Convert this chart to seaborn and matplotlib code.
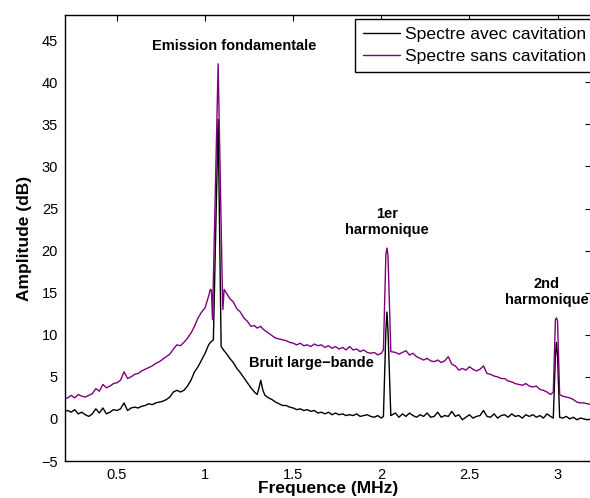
import matplotlib
matplotlib.use("Agg")
import matplotlib.pyplot as plt
import seaborn as sns
import pandas as pd

# frequency grid (MHz)
freq = [
    0.20, 0.22, 0.24, 0.26, 0.28, 0.30, 0.32, 0.34, 0.36, 0.38,
    0.40, 0.42, 0.44, 0.46, 0.48, 0.50, 0.52, 0.54, 0.56, 0.58,
    0.60, 0.62, 0.64, 0.66, 0.68, 0.70, 0.72, 0.74, 0.76, 0.78,
    0.80, 0.82, 0.84, 0.86, 0.88, 0.90, 0.92, 0.94, 0.96, 0.98,
    1.00, 1.02, 1.030, 1.036, 1.042, 1.047, 1.074, 1.091, 1.098, 1.101,
    1.108, 1.12, 1.14, 1.16, 1.18, 1.20, 1.22, 1.24, 1.26, 1.28,
    1.295, 1.305, 1.316, 1.328, 1.34, 1.36, 1.38, 1.40, 1.42, 1.44,
    1.46, 1.48, 1.50, 1.52, 1.54, 1.56, 1.58, 1.60, 1.62, 1.64,
    1.66, 1.68, 1.70, 1.72, 1.74, 1.76, 1.78, 1.80, 1.82, 1.84,
    1.86, 1.88, 1.90, 1.92, 1.94, 1.96, 1.98, 2.00, 2.012, 2.026,
    2.032, 2.038, 2.054, 2.08, 2.10, 2.12, 2.14, 2.16, 2.18, 2.20,
    2.22, 2.24, 2.26, 2.28, 2.30, 2.32, 2.34, 2.36, 2.38, 2.40,
    2.42, 2.44, 2.46, 2.48, 2.50, 2.52, 2.54, 2.56, 2.58, 2.60,
    2.62, 2.64, 2.66, 2.68, 2.70, 2.72, 2.74, 2.76, 2.78, 2.80,
    2.82, 2.84, 2.86, 2.88, 2.90, 2.92, 2.94, 2.96, 2.976, 2.988,
    2.994, 3.000, 3.012, 3.03, 3.05, 3.07, 3.09, 3.11, 3.13, 3.15,
    3.17, 3.19,
]

# amplitude (dB) with cavitation - black curve
amp_avec = [
    0.9, 1.0, 0.8, 1.1, 0.6, 0.8, 0.5, 0.3, 0.6, 1.2,
    0.7, 1.3, 0.6, 0.8, 1.1, 1.0, 1.2, 1.9, 1.0, 1.3,
    1.4, 1.3, 1.5, 1.6, 1.8, 1.7, 1.9, 2.0, 2.1, 2.3,
    2.6, 3.2, 3.4, 3.2, 3.4, 3.9, 4.6, 5.6, 6.2, 7.0,
    7.8, 8.8, 9.1, 9.2, 9.3, 9.4, 35.6, 8.6, 8.4, 8.3,
    8.1, 7.8, 7.2, 6.7, 6.0, 5.5, 4.9, 4.3, 3.7, 3.2,
    2.9, 3.6, 4.6, 3.4, 2.8, 2.5, 2.3, 2.0, 1.8, 1.6,
    1.6, 1.4, 1.3, 1.1, 1.2, 1.0, 1.1, 0.9, 1.0, 0.7,
    0.8, 0.6, 0.8, 0.5, 0.7, 0.5, 0.6, 0.4, 0.5, 0.4,
    0.6, 0.3, 0.4, 0.5, 0.3, 0.2, 0.4, 0.1, 0.3, 10.5,
    12.7, 10.5, 0.4, 0.7, 0.2, 0.6, 0.3, 0.7, 0.4, 0.2,
    0.5, 0.3, 0.7, 0.2, 0.3, 0.8, 0.2, 0.4, 0.3, 0.9,
    0.3, 0.5, -0.1, 0.2, 0.5, 0.1, 0.3, 0.4, 1.0, 0.3,
    0.2, 0.6, 0.1, 0.4, 0.5, 0.2, 0.6, 0.3, 0.4, 0.1,
    0.5, 0.3, 0.5, 0.2, 0.4, 0.1, 0.6, 0.3, 0.1, 7.5,
    9.1, 7.5, 0.2, 0.1, 0.3, 0.0, 0.2, -0.1, 0.1, 0.0,
    -0.1, 0.0,
]

# amplitude (dB) without cavitation - purple curve
amp_sans = [
    2.4, 2.5, 2.8, 2.5, 2.9, 2.7, 2.6, 2.8, 3.0, 3.6,
    3.3, 4.1, 3.7, 3.9, 4.2, 4.3, 4.6, 5.6, 4.8, 5.0,
    5.3, 5.4, 5.7, 5.9, 6.1, 6.3, 6.6, 6.8, 7.1, 7.4,
    7.7, 8.3, 8.8, 8.7, 9.1, 9.6, 10.2, 11.0, 12.0, 12.7,
    13.2, 14.6, 15.4, 15.3, 11.8, 16.5, 42.2, 23.1, 15.3, 13.0,
    15.4, 15.0, 14.3, 13.9, 13.1, 12.7, 12.0, 11.6, 11.0, 11.1,
    10.8, 10.9, 11.0, 10.7, 10.5, 10.2, 9.9, 9.6, 9.5, 9.4,
    9.3, 9.1, 9.0, 8.8, 9.0, 8.7, 8.8, 8.6, 8.9, 8.7,
    8.8, 8.5, 8.7, 8.4, 8.6, 8.3, 8.5, 8.2, 8.6, 8.2,
    8.3, 8.0, 8.2, 7.9, 7.8, 7.9, 7.6, 7.8, 8.2, 19.6,
    20.3, 19.4, 8.0, 7.9, 7.7, 7.9, 8.1, 7.6, 7.8, 7.4,
    7.2, 7.0, 7.2, 6.9, 6.8, 7.0, 6.7, 6.9, 7.4, 6.5,
    6.3, 5.8, 6.0, 5.8, 6.2, 5.9, 5.7, 5.9, 6.3, 5.4,
    5.3, 5.1, 5.0, 4.8, 4.8, 4.5, 4.4, 4.2, 4.1, 4.0,
    4.2, 3.9, 3.8, 3.9, 3.5, 3.4, 3.2, 2.9, 3.2, 11.8,
    12.0, 11.7, 2.9, 2.7, 2.6, 2.5, 2.3, 2.0, 1.9, 1.9,
    1.8, 1.7,
]

series_names = ["Spectre avec cavitation", "Spectre sans cavitation"]
series_colors = ["black", "#800080"]

x_ticks = [0.5, 1, 1.5, 2, 2.5, 3]
x_tick_labels = ["0.5", "1", "1.5", "2", "2.5", "3"]
y_ticks = [-5, 0, 5, 10, 15, 20, 25, 30, 35, 40, 45]

df = pd.concat([
    pd.DataFrame({"freq": freq, "amp": amp_avec, "spectre": series_names[0]}),
    pd.DataFrame({"freq": freq, "amp": amp_sans, "spectre": series_names[1]}),
], ignore_index=True)

sns.set_style("white")
plt.rcParams["font.family"] = ["Liberation Sans", "DejaVu Sans"]
plt.rcParams["axes.unicode_minus"] = True
plt.rcParams["text.color"] = "black"
plt.rcParams["axes.labelcolor"] = "black"

fig = plt.figure(figsize=(5.9, 4.98), dpi=100)
ax = fig.add_axes([65 / 590, 37 / 498, 526 / 590, 446 / 498])

sns.lineplot(data=df, x="freq", y="amp", hue="spectre", hue_order=series_names,
             palette=series_colors, estimator=None, sort=False,
             linewidth=1.0, ax=ax)

ax.set_xlim(0.205, 3.19)
ax.set_ylim(-5, 48)
ax.set_xticks(x_ticks)
ax.set_xticklabels(x_tick_labels)
ax.set_yticks(y_ticks)
ax.tick_params(direction="in", length=4, width=0.8, top=True, right=True,
               labelsize=10.5, colors="black", pad=5)
for sp in ax.spines.values():
    sp.set_visible(True)
    sp.set_color("black")
    sp.set_linewidth(1.0)

ax.set_xlabel("Frequence (MHz)", fontsize=12.5, fontweight="bold")
ax.set_ylabel("Amplitude (dB)", fontsize=12.5, fontweight="bold")
ax.xaxis.set_label_coords(0.5, -0.045)
ax.yaxis.set_label_coords(-0.062, 0.5)

# annotations
ann_kw = dict(fontsize=10.5, fontweight="bold", ha="center", va="center",
              color="black")
ax.text(1.165, 44.3, "Emission fondamentale", **ann_kw)
ax.text(2.034, 23.4, "1er\nharmonique", linespacing=1.15, **ann_kw)
ax.text(2.94, 15.1, "2nd\nharmonique", linespacing=1.15, clip_on=False, **ann_kw)
ax.text(1.606, 6.6, "Bruit large\u2212bande", **ann_kw)

handles, labels = ax.get_legend_handles_labels()
leg = ax.legend(handles, labels, loc="upper left",
                bbox_to_anchor=(355 / 590, 479 / 498),
                bbox_transform=fig.transFigure, fontsize=12.6,
                frameon=True, fancybox=False, edgecolor="black",
                borderpad=0.45, handlelength=2.1, handletextpad=0.3,
                labelspacing=0.4, borderaxespad=0)
leg.get_frame().set_linewidth(1.0)
leg.get_frame().set_alpha(1.0)
for t in leg.get_texts():
    t.set_color("black")

fig.savefig("out.png", dpi=100)
